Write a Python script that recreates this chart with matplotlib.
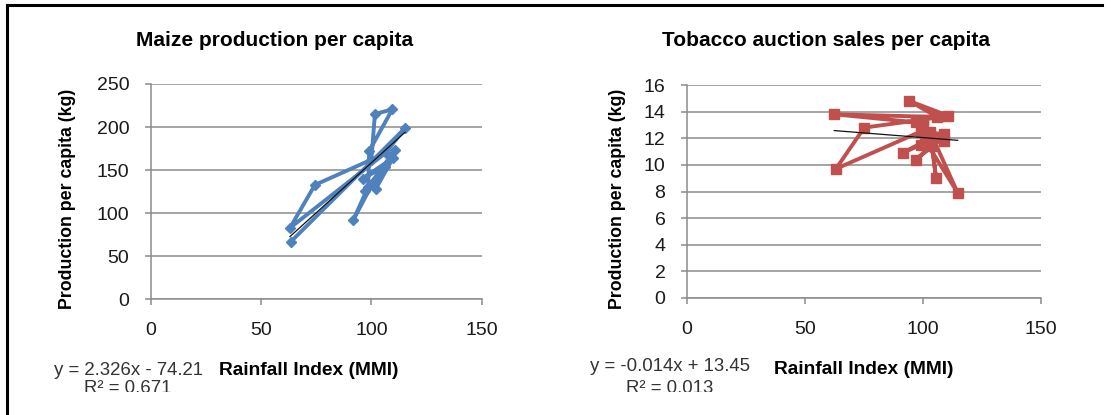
import matplotlib
matplotlib.use("Agg")
import matplotlib.pyplot as plt
import numpy as np
from matplotlib.lines import Line2D
from matplotlib.transforms import Bbox

# ---------------- data ----------------
maize_rain = [63.5, 115.2, 106.5, 63.1, 74.4, 100.0, 101.6, 109.5, 99.0, 98.6,
              91.8, 100.7, 110.7, 97.0, 106.2, 96.0, 109.8, 102.0, 104.0]
maize_prod = [66.6, 198.5, 170.0, 82.6, 132.6, 162.0, 215.0, 220.6, 172.0, 130.6,
              91.9, 134.9, 173.0, 125.0, 154.0, 140.0, 164.0, 128.0, 150.0]
maize_trend = (2.326, -74.21)
maize_eq = ["y = 2.326x - 74.21", "R² = 0.671"]

tob_rain = [97.0, 62.4, 106.0, 94.2, 110.5, 100.0, 75.1, 63.1, 99.0, 109.0,
            97.0, 104.0, 105.5, 103.0, 114.7, 101.0, 91.4, 99.0, 109.0, 100.0]
tob_sales = [13.2, 13.8, 13.6, 14.8, 13.7, 13.4, 12.8, 9.7, 12.5, 12.3,
             10.4, 11.4, 9.0, 12.5, 7.9, 11.8, 10.9, 11.5, 11.8, 13.0]
tob_trend = (-0.014, 13.45)
tob_eq = ["y = -0.014x + 13.45", "R² = 0.013"]

titles = ["Maize production per capita", "Tobacco auction sales per capita"]
xlabel = "Rainfall Index (MMI)"
ylabel = "Production per capita (kg)"
x_ticks = [0, 50, 100, 150]
maize_yticks = [0, 50, 100, 150, 200, 250]
tob_yticks = [0, 2, 4, 6, 8, 10, 12, 14, 16]

# ---------------- style ----------------
W, H = 1111, 415
plt.rcParams['font.family'] = ['Liberation Sans', 'DejaVu Sans']
fig = plt.figure(figsize=(W / 100, H / 100), dpi=100)
fig.patch.set_facecolor('white')

GRID = '#8c8c8c'
TXT = '#1a1a1a'

def px(x, y):
    return x / W, 1 - y / H

def setup(ax, yticks):
    ax.set_xlim(0, 150)
    ax.set_ylim(yticks[0], yticks[-1])
    ax.set_xticks(x_ticks)
    ax.set_yticks(yticks)
    for s in ['top', 'right']:
        ax.spines[s].set_visible(False)
    for s in ['left', 'bottom']:
        ax.spines[s].set_color(GRID)
        ax.spines[s].set_linewidth(1.1)
    ax.yaxis.grid(True, color=GRID, linewidth=1.1)
    ax.set_axisbelow(True)
    ax.tick_params(axis='both', colors=GRID, labelcolor=TXT, labelsize=14,
                   length=4.5, width=1.1)
    ax.tick_params(axis='x', pad=12)
    ax.tick_params(axis='y', pad=11)
    ax.set_facecolor('none')

ax1 = fig.add_axes([150.7 / W, 1 - 299 / H, 331 / W, 215 / H])
ax2 = fig.add_axes([687 / W, 1 - 298 / H, 354 / W, 213 / H])
setup(ax1, maize_yticks)
setup(ax2, tob_yticks)

ax1.plot(maize_rain, maize_prod, color='#4F81BD', linewidth=2.8, marker='D',
         markersize=5, solid_joinstyle='round', zorder=3)
ax2.plot(tob_rain, tob_sales, color='#C0504D', linewidth=2.8, marker='s',
         markersize=6.5, solid_joinstyle='round', zorder=3)

for ax, xs, (m, b) in [(ax1, maize_rain, maize_trend), (ax2, tob_rain, tob_trend)]:
    xx = np.array([min(xs), max(xs)])
    ax.plot(xx, m * xx + b, color='#111111', linewidth=0.9, zorder=4)

# titles
fig.text(*px(275, 40), titles[0], ha='center', va='center', fontsize=15,
         fontweight='bold', color='black')
fig.text(*px(826, 40), titles[1], ha='center', va='center', fontsize=15,
         fontweight='bold', color='black')

# axis labels
fig.text(*px(309, 370), xlabel, ha='center', va='center', fontsize=13.8,
         fontweight='bold', color='black')
fig.text(*px(864, 369), xlabel, ha='center', va='center', fontsize=13.8,
         fontweight='bold', color='black')
fig.text(*px(68, 199), ylabel, ha='center', va='center', fontsize=12.8,
         fontweight='bold', rotation=90, color='black')
fig.text(*px(617, 199), ylabel, ha='center', va='center', fontsize=12.8,
         fontweight='bold', rotation=90, color='black')

# trend equations (bottom line clipped like the source)
clip = Bbox.from_extents(0, H - 392, W, H)
for (cx, y1, y2), eq in [((128, 370, 388), maize_eq), ((670, 366, 388), tob_eq)]:
    t1 = fig.text(*px(cx, y1), eq[0], ha='center', va='center', fontsize=13.4,
                  color='#333333')
    t2 = fig.text(*px(cx, y2), eq[1], ha='center', va='center', fontsize=13.4,
                  color='#333333')
    for t in (t1, t2):
        t.set_clip_box(clip)
        t.set_clip_on(True)

# outer frame (left and top edges)
fig.add_artist(Line2D([7 / W, 7 / W], [0, 1 - 5 / H], transform=fig.transFigure,
                      color='black', linewidth=2.2))
fig.add_artist(Line2D([7 / W, 1102 / W], [1 - 5 / H, 1 - 5 / H],
                      transform=fig.transFigure, color='black', linewidth=2.2))

fig.savefig('out.png', dpi=100, facecolor='white')
